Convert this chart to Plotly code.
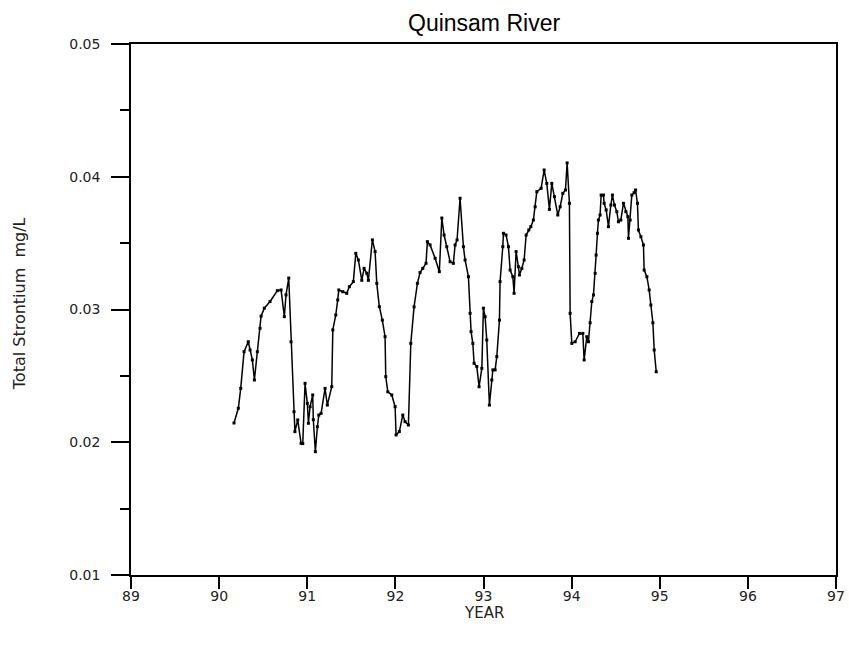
import plotly.graph_objects as go

years = [90.169, 90.218, 90.245, 90.283, 90.331, 90.351, 90.377, 90.400, 90.434, 90.464,
         90.476, 90.513, 90.578, 90.661, 90.703, 90.740, 90.759, 90.790, 90.816, 90.850,
         90.860, 90.892, 90.930, 90.949, 90.975, 91.001, 91.013, 91.032, 91.062, 91.069,
         91.092, 91.115, 91.131, 91.157, 91.202, 91.228, 91.278, 91.290, 91.324, 91.346,
         91.358, 91.403, 91.448, 91.478, 91.523, 91.551, 91.580, 91.619, 91.645, 91.675,
         91.694, 91.739, 91.770, 91.789, 91.818, 91.852, 91.883, 91.891, 91.914, 91.959,
         91.997, 92.008, 92.045, 92.084, 92.110, 92.148, 92.175, 92.212, 92.250, 92.280,
         92.311, 92.348, 92.363, 92.394, 92.451, 92.499, 92.527, 92.553, 92.583, 92.621,
         92.658, 92.678, 92.700, 92.734, 92.772, 92.791, 92.829, 92.848, 92.859, 92.879,
         92.893, 92.924, 92.950, 92.981, 92.999, 93.018, 93.037, 93.067, 93.094, 93.106,
         93.132, 93.151, 93.181, 93.188, 93.219, 93.226, 93.256, 93.283, 93.302, 93.333,
         93.347, 93.370, 93.396, 93.408, 93.435, 93.461, 93.484, 93.514, 93.537, 93.566,
         93.586, 93.605, 93.654, 93.688, 93.718, 93.748, 93.775, 93.805, 93.843, 93.870,
         93.900, 93.930, 93.949, 93.975, 93.983, 94.002, 94.040, 94.089, 94.127, 94.142,
         94.172, 94.191, 94.210, 94.229, 94.248, 94.267, 94.278, 94.293, 94.304, 94.323,
         94.335, 94.361, 94.369, 94.392, 94.418, 94.445, 94.463, 94.486, 94.513, 94.531,
         94.558, 94.588, 94.615, 94.638, 94.645, 94.664, 94.683, 94.709, 94.726, 94.747,
         94.758, 94.786, 94.815, 94.823, 94.854, 94.880, 94.899, 94.922, 94.937, 94.960]

strontium = [0.02145, 0.02256, 0.02406, 0.02682, 0.02757, 0.02695, 0.02620, 0.02469, 0.02682, 0.02858,
             0.02950, 0.03010, 0.03060, 0.03142, 0.03147, 0.02946, 0.03110, 0.03237, 0.02757, 0.02230,
             0.02080, 0.02168, 0.01992, 0.01990, 0.02444, 0.02293, 0.02143, 0.02268, 0.02356, 0.02170,
             0.01929, 0.02117, 0.02205, 0.02218, 0.02406, 0.02280, 0.02419, 0.02846, 0.02959, 0.03072,
             0.03147, 0.03134, 0.03122, 0.03172, 0.03210, 0.03423, 0.03373, 0.03220, 0.03310, 0.03273,
             0.03220, 0.03524, 0.03436, 0.03197, 0.03021, 0.02920, 0.02795, 0.02494, 0.02380, 0.02356,
             0.02268, 0.02055, 0.02080, 0.02205, 0.02155, 0.02130, 0.02745, 0.03020, 0.03197, 0.03278,
             0.03310, 0.03348, 0.03511, 0.03486, 0.03386, 0.03285, 0.03689, 0.03561, 0.03473, 0.03360,
             0.03348, 0.03486, 0.03524, 0.03838, 0.03473, 0.03373, 0.03247, 0.02971, 0.02833, 0.02745,
             0.02595, 0.02570, 0.02418, 0.02557, 0.03010, 0.02946, 0.02770, 0.02280, 0.02469, 0.02545,
             0.02545, 0.02645, 0.02920, 0.03210, 0.03473, 0.03574, 0.03561, 0.03473, 0.03297, 0.03247,
             0.03122, 0.03436, 0.03322, 0.03260, 0.03310, 0.03373, 0.03561, 0.03599, 0.03624, 0.03674,
             0.03774, 0.03887, 0.03913, 0.04051, 0.03950, 0.03754, 0.03950, 0.03850, 0.03712, 0.03774,
             0.03875, 0.03900, 0.04104, 0.03800, 0.02971, 0.02745, 0.02757, 0.02820, 0.02820, 0.02620,
             0.02795, 0.02757, 0.02900, 0.03060, 0.03110, 0.03272, 0.03410, 0.03574, 0.03674, 0.03712,
             0.03862, 0.03862, 0.03800, 0.03750, 0.03624, 0.03787, 0.03862, 0.03787, 0.03737, 0.03661,
             0.03674, 0.03800, 0.03737, 0.03699, 0.03536, 0.03674, 0.03862, 0.03880, 0.03900, 0.03800,
             0.03599, 0.03548, 0.03486, 0.03297, 0.03247, 0.03147, 0.03034, 0.02900, 0.02695, 0.02531]

x_ticks = [89, 90, 91, 92, 93, 94, 95, 96, 97]
y_ticks = [0.01, 0.02, 0.03, 0.04, 0.05]
y_tick_text = ["0.01", "0.02", "0.03", "0.04", "0.05"]

FONT = "Liberation Sans, Arial, sans-serif"
WIDE = "DejaVu Sans, Verdana, sans-serif"
TICKFONT = dict(family=WIDE, size=14, color="#222")

fig = go.Figure()
fig.add_trace(go.Scatter(
    x=years, y=strontium, mode="lines+markers",
    line=dict(color="black", width=1.5),
    marker=dict(symbol="square", size=3, color="black"),
    showlegend=False,
))

fig.update_layout(
    width=849, height=650,
    margin=dict(l=131, r=13, t=44, b=75),
    paper_bgcolor="white", plot_bgcolor="white",
    font=dict(family=FONT, size=13, color="#222"),
    xaxis=dict(
        range=[89, 97], tickvals=x_ticks, ticktext=[str(v) for v in x_ticks],
        ticks="outside", ticklen=12, tickwidth=1.5, tickcolor="black",
        showline=True, linecolor="black", linewidth=1.5, mirror=True,
        showgrid=False, zeroline=False, automargin=False, ticklabelstandoff=-5,
        tickfont=TICKFONT,
    ),
    yaxis=dict(
        range=[0.01, 0.05], tickvals=y_ticks, ticktext=y_tick_text,
        ticks="outside", ticklen=18, tickwidth=1.5, tickcolor="black",
        minor=dict(dtick=0.005, tick0=0.005, ticks="outside", ticklen=9, tickwidth=1.5, tickcolor="black"),
        showline=True, linecolor="black", linewidth=1.5, mirror=True,
        showgrid=False, zeroline=False, ticklabelstandoff=8, automargin=False,
        tickfont=TICKFONT,
    ),
    annotations=[
        dict(text="Quinsam River", xref="paper", yref="paper", x=0.5, y=1.0,
             yshift=6, xanchor="center", yanchor="bottom", showarrow=False,
             font=dict(family=FONT, size=23, color="black")),
        dict(text="YEAR", xref="paper", yref="paper", x=0.5, y=0.0,
             yshift=-38, xanchor="center", yanchor="middle", showarrow=False,
             font=dict(family=WIDE, size=15, color="#222")),
        dict(text="Total Strontium  mg/L", xref="paper", yref="paper",
             x=(19 - 131) / 705, y=0.51, xanchor="center", yanchor="middle",
             textangle=-90, showarrow=False,
             font=dict(family=WIDE, size=16, color="#222")),
    ],
)

fig.write_html("out.html", config={"displayModeBar": False},
               post_script="document.body.style.margin='0';")
